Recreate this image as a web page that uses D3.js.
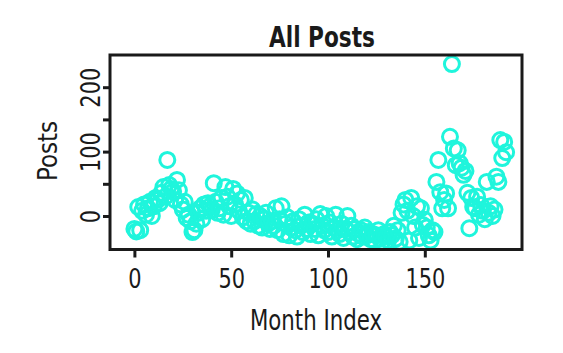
<!DOCTYPE html>
<html>
<head>
<meta charset="utf-8">
<script src="https://cdn.jsdelivr.net/npm/d3@7"></script>
<style>
  body { margin: 0; background: #fff; }
  svg { display: block; }
  text { font-family: "Liberation Sans Narrow", "DejaVu Sans Condensed", sans-serif; fill: #1a1a1a; }
</style>
</head>
<body>
<div id="container"></div>
<script>
// posts per month, month index = position in the array
const posts = [
  -20, -24, 14, -22, 8, 18, 2, 12, 22, 0,
  15, 28, 25, 20, 36, 45, 30, 87, 48, 42,
  38, 25, 56, 40, 18, 10, 22, -3, 2, -8,
  -25, -22, -12, 5, 12, -5, 18, 8, 20, 15,
  10, 51, 22, 5, 12, 28, 2, 45, 30, 15,
  0, 42, 18, 35, 8, 25, -2, 28, -8, 5,
  -12, 10, -8, 3, -15, 0, -18, -5, 5, -12,
  -20, -8, -15, 12, -22, -5, 15, -28, -12, -2,
  -30, -18, -8, -22, -32, -5, -15, -25, 2, -20,
  -10, -28, -12, -20, -5, -30, 3, -15, -22, 0,
  -25, -10, -32, -18, 2, -22, -28, -12, -34, -20,
  0, -25, -15, -32, -20, -36, -28, -22, -32, -18,
  -30, -25, -36, -28, -38, -30, -22, -35, -40, -28,
  -32, -38, -25, -30, -15, -35, -22, -40, 5, 18,
  25, 8, -38, 28, 0, -18, 15, -34, 12, -14,
  -6, -18, -30, -38, -22, -25, 53, 87, 37, 12,
  25, 35, 12, 123, 236, 105, 79, 102, 82, 75,
  64, 70, 36, -19, 28, 14, 12, 30, 2, 17,
  8, -5, 53, 5, 15, 0, 10, 61, 53, 118,
  90, 115, 99
];
const monthIndex = posts.map((d, i) => i);

const xTicks = [0, 50, 100, 150];
const yTicks = [0, 50, 100, 150, 200];
const yLabels = [0, 100, 200];

const W = 563, H = 353;
const box = { left: 110, right: 522, top: 55, bottom: 249.5 };
const ink = "#1a1a1a";

// the reference font is narrower than what we have, squeeze text horizontally
const squeeze = (sel, k) => sel.each(function () {
  const len = this.getComputedTextLength();
  if (len > 0) {
    d3.select(this)
      .attr("textLength", len * k)
      .attr("lengthAdjust", "spacingAndGlyphs");
  }
});

const svg = d3.select("#container")
  .append("svg")
  .attr("width", W)
  .attr("height", H);

const x = d3.scaleLinear()
  .domain([-12.6, 200.2])
  .range([box.left, box.right]);

const y = d3.scaleLinear()
  .domain([-52, 250])
  .range([box.bottom, box.top]);

// points
svg.append("g")
  .selectAll("circle")
  .data(posts)
  .join("circle")
  .attr("cx", (d, i) => x(monthIndex[i]))
  .attr("cy", d => y(d))
  .attr("r", 7.5)
  .attr("fill", "none")
  .attr("stroke", "#1ff5dc")
  .attr("stroke-width", 3);

// x axis
const xAxis = svg.append("g")
  .attr("transform", `translate(0,${box.bottom})`)
  .call(d3.axisBottom(x).tickValues(xTicks).tickSize(8));
xAxis.select(".domain").remove();
xAxis.selectAll(".tick line").attr("stroke", ink).attr("stroke-width", 3);
xAxis.selectAll(".tick text")
  .attr("y", 38.5)
  .attr("dy", null)
  .style("font-size", "27px")
  .call(squeeze, 0.86);

// y axis
const yAxis = svg.append("g")
  .attr("transform", `translate(${box.left},0)`)
  .call(d3.axisLeft(y).tickValues(yTicks).tickSize(7)
    .tickFormat(d => yLabels.includes(d) ? d : ""));
yAxis.select(".domain").remove();
yAxis.selectAll(".tick line").attr("stroke", ink).attr("stroke-width", 3);
yAxis.selectAll(".tick text")
  .attr("transform", "rotate(-90)")
  .attr("x", 0)
  .attr("y", -10)
  .attr("dy", null)
  .attr("text-anchor", "middle")
  .style("font-size", "27px")
  .call(squeeze, 0.86);

// frame
svg.append("rect")
  .attr("x", box.left)
  .attr("y", box.top)
  .attr("width", box.right - box.left)
  .attr("height", box.bottom - box.top)
  .attr("fill", "none")
  .attr("stroke", ink)
  .attr("stroke-width", 3);

// title and labels
svg.append("text")
  .attr("x", 322)
  .attr("y", 47)
  .attr("text-anchor", "middle")
  .style("font-size", "29px")
  .style("font-weight", "bold")
  .text("All Posts")
  .call(squeeze, 0.83);

svg.append("text")
  .attr("x", 316)
  .attr("y", 330)
  .attr("text-anchor", "middle")
  .style("font-size", "28px")
  .text("Month Index")
  .call(squeeze, 0.845);

svg.append("text")
  .attr("transform", "translate(57,151) rotate(-90)")
  .attr("text-anchor", "middle")
  .style("font-size", "27px")
  .text("Posts")
  .call(squeeze, 0.95);
</script>
</body>
</html>
